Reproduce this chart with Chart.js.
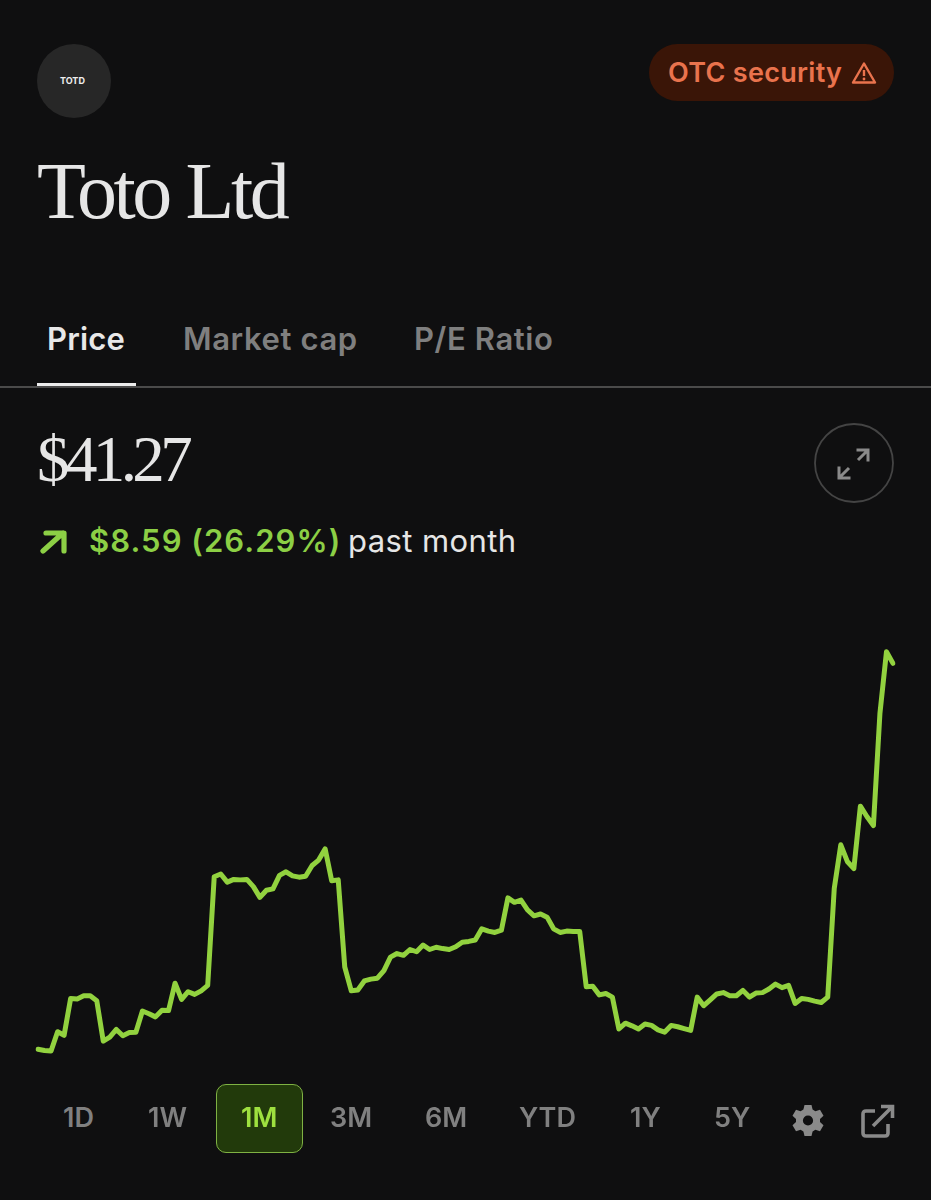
<!DOCTYPE html>
<html>
<head>
<meta charset="utf-8">
<title>Toto Ltd</title>
<script src="https://cdn.jsdelivr.net/npm/chart.js@4"></script>
<style>
html,body{margin:0;padding:0;background:#0f0f10;}
#page{position:relative;width:931px;height:1200px;overflow:hidden;background:#0f0f10;font-family:Inter,sans-serif;}
.t{position:absolute;white-space:nowrap;line-height:1;}
.serif{font-family:"Liberation Serif",serif;color:#e6e6e6;font-weight:400;}
.tab{font-size:31px;font-weight:600;top:323px;color:#7f7f7f;letter-spacing:.6px;}
.rng{font-size:27px;font-weight:600;top:1104px;color:#808080;letter-spacing:0;}
svg{position:absolute;overflow:visible;}
#wrap{position:absolute;left:0;top:600px;width:931px;height:500px;}
</style>
</head>
<body>
<div id="page">
  <div style="position:absolute;left:37px;top:44px;width:74px;height:74px;border-radius:50%;background:#272727;"></div>
  <div class="t" style="left:60px;top:76px;font-size:9px;font-weight:700;color:#eee;">TOTD</div>

  <div style="position:absolute;left:649px;top:44px;width:245px;height:57px;border-radius:29px;background:#3a1507;"></div>
  <div class="t" style="left:668px;top:59px;font-size:27px;font-weight:600;color:#e9734d;letter-spacing:.3px;">OTC security</div>
  <svg style="left:852px;top:62px;" width="24" height="22" viewBox="0 0 24 22"><path d="M12 1.5 L23 20.5 L1 20.5 Z" fill="none" stroke="#e9734d" stroke-width="2.4" stroke-linejoin="round"/><path d="M12 8 V14" stroke="#e9734d" stroke-width="2.4"/><circle cx="12" cy="17" r="1.4" fill="#e9734d"/></svg>

  <div class="t serif" style="left:37px;top:151px;font-size:80px;letter-spacing:-3.4px;">Toto Ltd</div>

  <div class="t tab" style="left:47px;color:#e8e8e8;letter-spacing:.2px;">Price</div>
  <div class="t tab" style="left:183px;">Market cap</div>
  <div class="t tab" style="left:414px;">P/E Ratio</div>
  <div style="position:absolute;left:0;top:386px;width:931px;height:1.5px;background:#4a4a4a;"></div>
  <div style="position:absolute;left:37px;top:383px;width:99px;height:3px;background:#ececec;"></div>

  <div class="t serif" style="left:37px;top:427px;font-size:65px;letter-spacing:-4.6px;">$41.27</div>

  <svg style="left:814px;top:423px;" width="80" height="80" viewBox="0 0 80 80"><circle cx="40" cy="40" r="39" fill="none" stroke="#444" stroke-width="1.8"/><path d="M54 27 L44 37 M42.5 27 H54 V38.5 M25 55 L35 45 M25 43.5 V55 H36.5" fill="none" stroke="#8a8a8a" stroke-width="3"/></svg>

  <svg style="left:40px;top:529px;" width="28" height="25" viewBox="0 0 28 25"><path d="M3 22 L23 4 M6 4 H24 V22" fill="none" stroke="#8ccf45" stroke-width="5.2" stroke-linecap="round" stroke-linejoin="round"/></svg>
  <div class="t" style="left:89px;top:525px;font-size:31px;font-weight:600;color:#8ccf45;letter-spacing:1.05px;">$8.59 (26.29%)</div>
  <div class="t" style="left:348px;top:525px;font-size:31px;font-weight:400;color:#e6e6e6;letter-spacing:.4px;">past month</div>

  <div id="wrap"><canvas id="c" width="931" height="500"></canvas></div>

  <div class="t rng" style="left:63px;">1D</div>
  <div class="t rng" style="left:148px;">1W</div>
  <div style="position:absolute;left:216px;top:1084px;width:85px;height:67px;border-radius:10px;background:#223a0b;border:1.5px solid #7fb243;"></div>
  <div class="t rng" style="left:241px;color:#9ee03f;">1M</div>
  <div class="t rng" style="left:330px;">3M</div>
  <div class="t rng" style="left:425px;">6M</div>
  <div class="t rng" style="left:519px;">YTD</div>
  <div class="t rng" style="left:630px;">1Y</div>
  <div class="t rng" style="left:714px;">5Y</div>

  <svg style="left:792px;top:1104px;" width="32" height="33" viewBox="0 0 32 33"><path fill="#8a8a8a" fill-rule="evenodd" d="M12.5 1 H19.5 L20.6 5.6 L23.4 7.2 L28 5.8 L31.5 11.8 L28 15 V18 L31.5 21.2 L28 27.2 L23.4 25.8 L20.6 27.4 L19.5 32 H12.5 L11.4 27.4 L8.6 25.8 L4 27.2 L.5 21.2 L4 18 V15 L.5 11.8 L4 5.8 L8.6 7.2 L11.4 5.6 Z M16 11.4 A5.1 5.1 0 1 0 16 21.6 A5.1 5.1 0 1 0 16 11.4 Z"/></svg>
  <svg style="left:861px;top:1104px;" width="34" height="34" viewBox="0 0 34 34"><path d="M14 7 H5 Q2 7 2 10 V29 Q2 32 5 32 H24 Q27 32 27 29 V20 M12 22 L31 3 M20 2.5 H31.5 V14" fill="none" stroke="#8a8a8a" stroke-width="3.6"/></svg>
</div>
<script>
const categories = Array.from({length:132},(_,i)=>String(i+1));
const prices = [
32.68,32.65,32.64,33.07,32.99,33.81,33.80,33.87,33.87,33.76,
32.86,32.95,33.12,32.98,33.05,33.06,33.53,33.47,33.40,33.55,
33.54,34.15,33.79,33.96,33.90,33.98,34.10,36.52,36.58,36.40,
36.46,36.45,36.46,36.30,36.06,36.22,36.25,36.55,36.63,36.54,
36.51,36.53,36.77,36.89,37.14,36.43,36.45,34.51,33.98,34.00,
34.20,34.24,34.26,34.43,34.73,34.81,34.77,34.90,34.85,35.00,
34.90,34.95,34.92,34.90,34.96,35.06,35.08,35.11,35.36,35.31,
35.28,35.33,36.05,35.95,36.00,35.78,35.65,35.69,35.62,35.36,
35.28,35.31,35.30,35.30,34.07,34.08,33.89,33.92,33.84,33.13,
33.26,33.20,33.13,33.24,33.21,33.11,33.06,33.21,33.18,33.14,
33.10,33.84,33.65,33.78,33.91,33.94,33.87,33.87,33.99,33.84,
33.93,33.94,34.02,34.13,34.05,34.10,33.70,33.81,33.79,33.75,
33.72,33.84,36.26,37.23,36.86,36.70,38.09,37.86,37.66,40.16,
41.53,41.27];
const yMin = 32.44, yMax = 41.79;
new Chart(document.getElementById('c'),{
  type:'line',
  data:{labels:categories,datasets:[{
    data:prices,
    borderColor:'#92d23f',
    borderWidth:5,
    pointRadius:0,
    tension:0,
    borderJoinStyle:'round',
    borderCapStyle:'round',
    fill:false
  }]},
  options:{
    responsive:false,
    animation:false,
    layout:{padding:{left:38,right:38,top:40,bottom:40}},
    plugins:{legend:{display:false},tooltip:{enabled:false},title:{display:false}},
    scales:{
      x:{display:false,offset:false},
      y:{display:false,min:yMin,max:yMax}
    }
  }
});
</script>
</body>
</html>
